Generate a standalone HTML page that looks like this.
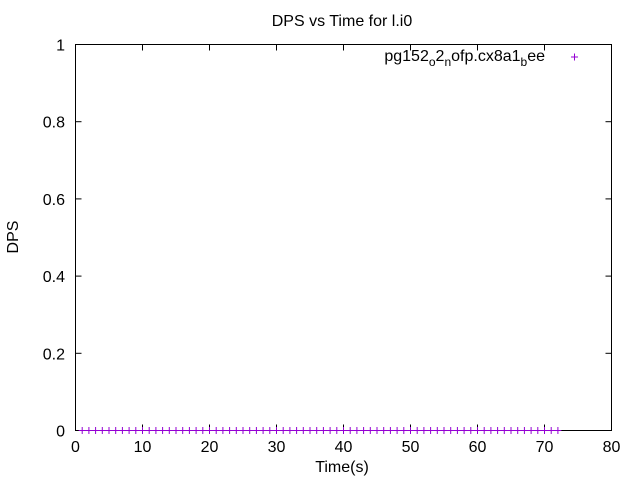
<!DOCTYPE html>
<html><head><meta charset="utf-8"><style>
body{margin:0;background:#fff}
svg{display:block;font-family:"Liberation Sans",sans-serif;font-size:16px}
</style></head><body>
<svg width="640" height="480">
<text x="342" y="26" text-anchor="middle">DPS vs Time for l.i0</text>
<text transform="translate(18,237) rotate(-90)" text-anchor="middle">DPS</text>
<text x="342" y="472" text-anchor="middle">Time(s)</text>
<rect x="75.5" y="44.5" width="536" height="386" fill="none" stroke="#000"/>
<g id="ticks"></g>
<g id="pts"></g>
<text x="545" y="61" text-anchor="end">pg152<tspan dy="5" font-size="12">o</tspan><tspan dy="-5">2</tspan><tspan dy="5" font-size="12">n</tspan><tspan dy="-5">ofp.cx8a1</tspan><tspan dy="5" font-size="12">b</tspan><tspan dy="-5">ee</tspan></text>
<g stroke="#9400d3"><line x1="571" y1="57" x2="578" y2="57"/><line x1="574.5" y1="53.5" x2="574.5" y2="60.5"/></g>
</svg>
<script>
const xTicks=[0,10,20,30,40,50,60,70,80];
const yTicks=[0,0.2,0.4,0.6,0.8,1];
const yLabels=["0","0.2","0.4","0.6","0.8","1"];
const times=[];for(let i=1;i<=72;i++)times.push(i);
const dps=times.map(()=>0);
const NS="http://www.w3.org/2000/svg";
const X=v=>75.5+v*536/80, Y=v=>430.5-v*386;
const tg=document.getElementById('ticks');
function mk(t,a,p){const e=document.createElementNS(NS,t);for(const k in a)e.setAttribute(k,a[k]);p.appendChild(e);return e;}
xTicks.forEach(v=>{
 const l=mk('line',{x1:X(v),x2:X(v),y1:430.5,y2:424.5,stroke:'#000'},tg);
 
 
 const l2=mk('line',{x1:X(v),x2:X(v),y1:44.5,y2:50.5,stroke:'#000'},tg);
 
 
 const t=mk('text',{x:X(v),y:452,'text-anchor':'middle'},tg);t.textContent=v;
 
 
});
yTicks.forEach((v,i)=>{
 const l=mk('line',{x1:75.5,x2:81.5,y1:Y(v),y2:Y(v),stroke:'#000'},tg);
 
 
 const l2=mk('line',{x1:605.5,x2:611.5,y1:Y(v),y2:Y(v),stroke:'#000'},tg);
 
 
 const t=mk('text',{x:65,y:Y(v)+6,'text-anchor':'end'},tg);t.textContent=yLabels[i];
 
 
});
const pg=document.getElementById('pts');
times.forEach((t,i)=>{
 const x=X(t),y=Y(dps[i]);
 const g=mk('g',{stroke:'#9400d3'},pg);
 
 
 mk('line',{x1:x-3.5,x2:x+3.5,y1:y,y2:y},g);
 mk('line',{x1:x,x2:x,y1:y-3.5,y2:y+3.5},g);
});
</script>
</body></html>
